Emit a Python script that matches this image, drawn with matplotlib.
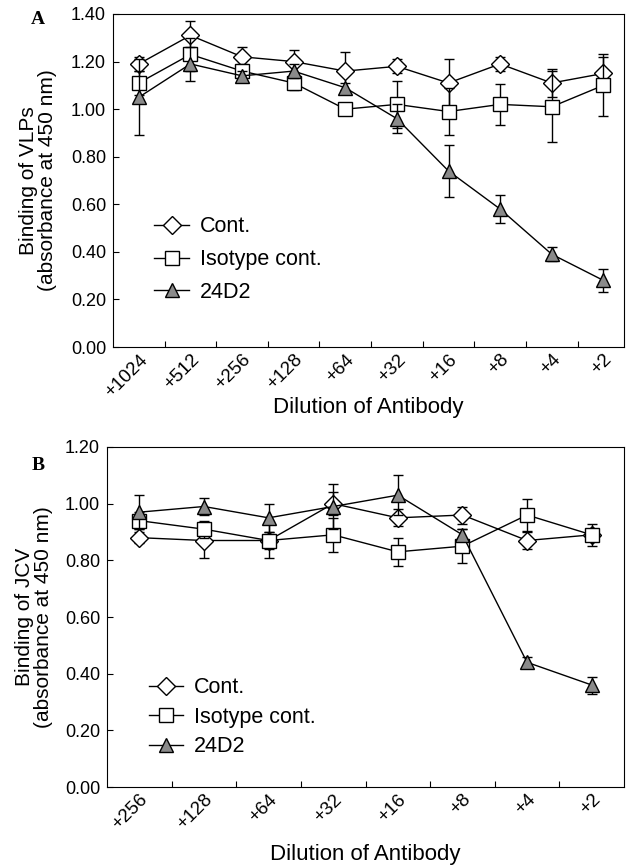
import numpy as np
import matplotlib
matplotlib.use("Agg")
import matplotlib.pyplot as plt
import matplotlib.transforms as mtransforms

plt.rcParams['font.family'] = ['Liberation Sans', 'DejaVu Sans']

# panel A: VLPs
dil_a = ["+1024", "+512", "+256", "+128", "+64", "+32", "+16", "+8", "+4", "+2"]
cont_a = [1.19, 1.31, 1.22, 1.20, 1.16, 1.18, 1.11, 1.19, 1.11, 1.15]
cont_a_err = [0.03, 0.06, 0.04, 0.05, 0.08, 0.03, 0.10, 0.03, 0.06, 0.07]
iso_a = [1.11, 1.23, 1.16, 1.11, 1.00, 1.02, 0.99, 1.02, 1.01, 1.10]
iso_a_err = [0.05, 0.07, 0.03, 0.03, 0.02, 0.10, 0.10, 0.085, 0.15, 0.13]
d24_a = [1.05, 1.19, 1.14, 1.16, 1.09, 0.96, 0.74, 0.58, 0.39, 0.28]
d24_a_err = [0.16, 0.07, 0.02, 0.03, 0.02, 0.06, 0.11, 0.06, 0.03, 0.05]

# panel B: JCV
dil_b = ["+256", "+128", "+64", "+32", "+16", "+8", "+4", "+2"]
cont_b = [0.88, 0.87, 0.87, 1.00, 0.95, 0.96, 0.87, 0.89]
cont_b_err = [0.02, 0.06, 0.03, 0.04, 0.03, 0.03, 0.03, 0.02]
iso_b = [0.94, 0.91, 0.87, 0.89, 0.83, 0.85, 0.96, 0.89]
iso_b_err = [0.03, 0.03, 0.06, 0.06, 0.05, 0.06, 0.055, 0.04]
d24_b = [0.97, 0.99, 0.95, 0.99, 1.03, 0.89, 0.44, 0.36]
d24_b_err = [0.06, 0.03, 0.05, 0.08, 0.07, 0.02, 0.02, 0.03]

series_names = ['Cont.', 'Isotype cont.', '24D2']

W, H = 626, 867
fig = plt.figure(figsize=(W / 100, H / 100), dpi=100)


def box(l, t, r, b):
    return [l / W, 1 - b / H, (r - l) / W, (b - t) / H]


def panel(ax, labels, cont, cerr, iso, ierr, d24, derr, ymax, xright, ylabel,
          leg_y, leg_sp, xlab_y, ylab_x):
    x = np.arange(len(labels))
    kw = dict(color='black', lw=1.0, elinewidth=1.0, capsize=3.5, capthick=1.0)
    c1 = ax.errorbar(x, cont, yerr=cerr, marker='D', ms=9, mfc='white', mec='black',
                     zorder=3, **kw)
    c2 = ax.errorbar(x, iso, yerr=ierr, marker='s', ms=10, mfc='white', mec='black',
                     zorder=4, **kw)
    c3 = ax.errorbar(x, d24, yerr=derr, marker='^', ms=10, mfc='#8a8a8a', mec='black',
                     zorder=5, **kw)
    ax.set_xlim(-0.5, xright)
    ax.set_ylim(0, ymax)
    yt = np.arange(0, ymax + 0.01, 0.2)
    ax.set_yticks(yt)
    ax.set_yticklabels(['%.2f' % v for v in yt], fontsize=13)
    ax.set_xticks(x[:-1] + 0.5)
    ax.set_xticklabels([])
    ax.set_xticks(x, minor=True)
    ax.set_xticklabels(labels, minor=True, rotation=45, ha='right', va='top',
                       rotation_mode='anchor', fontsize=13.5)
    shift = mtransforms.ScaledTranslation(0.09, 0, fig.dpi_scale_trans)
    for lab in ax.get_xticklabels(minor=True):
        lab.set_transform(lab.get_transform() + shift)
    ax.tick_params(axis='x', which='minor', length=0, pad=3)
    ax.tick_params(axis='x', which='major', direction='in', length=4, width=0.8)
    ax.tick_params(axis='y', direction='in', length=4, width=0.8, pad=5)
    for s in ax.spines.values():
        s.set_linewidth(0.8)
    ax.set_xlabel('Dilution of Antibody', fontsize=16)
    ax.xaxis.set_label_coords(0.5, xlab_y)
    ax.set_ylabel(ylabel, fontsize=15, linespacing=1.0)
    ax.yaxis.set_label_coords(ylab_x, 0.5)
    ax.legend(handles=[c1[0], c2[0], c3[0]], labels=series_names, loc='upper left',
              bbox_to_anchor=(0.06, leg_y), frameon=False,
              fontsize=15.5, handlelength=1.6, handletextpad=0.5,
              labelspacing=leg_sp, borderpad=0)


ax1 = fig.add_axes(box(113, 14, 624, 347))
panel(ax1, dil_a, cont_a, cont_a_err, iso_a, iso_a_err, d24_a, d24_a_err,
      1.40, 9.4, 'Binding of VLPs\n(absorbance at 450 nm)', 0.425, 0.55, -0.15, -0.11)

ax2 = fig.add_axes(box(107, 447, 624, 787))
panel(ax2, dil_b, cont_b, cont_b_err, iso_b, iso_b_err, d24_b, d24_b_err,
      1.20, 7.5, 'Binding of JCV\n(absorbance at 450 nm)', 0.355, 0.4, -0.168, -0.105)

fig.text(38 / W, 1 - 20 / H, 'A', family='Liberation Serif', fontsize=14,
         fontweight='bold', ha='center', va='center')
fig.text(38 / W, 1 - 465 / H, 'B', family='Liberation Serif', fontsize=14,
         fontweight='bold', ha='center', va='center')

fig.savefig('out.png', dpi=100)
